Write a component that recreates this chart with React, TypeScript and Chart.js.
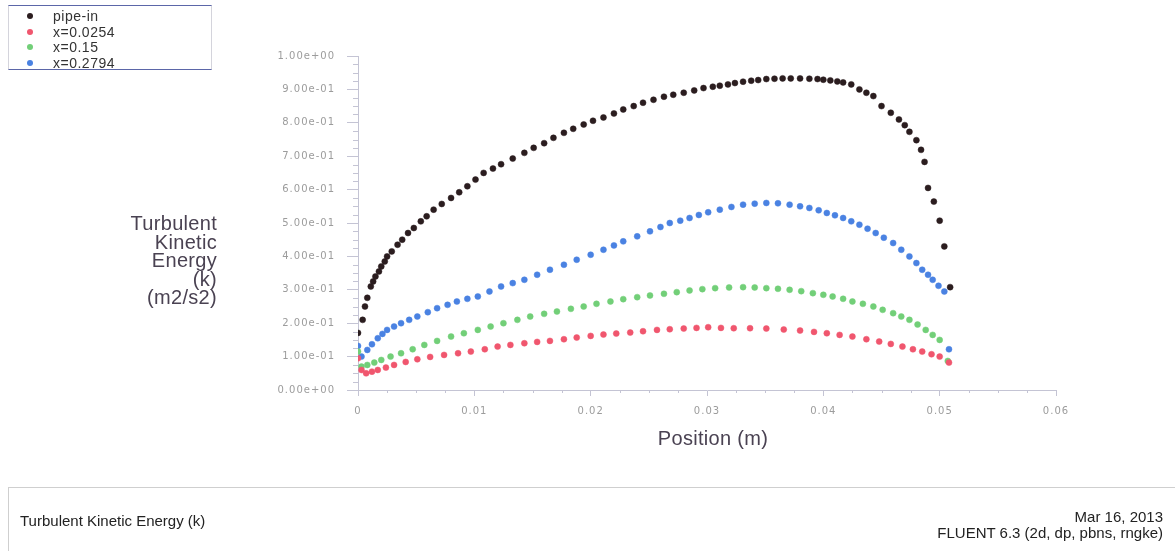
import React, { useEffect, useRef } from "react";
import { Chart, registerables } from "chart.js";

Chart.register(...registerables);

// ---- data ----
const pipeInX = [0, 0.0004, 0.0006, 0.0008, 0.0011, 0.0013, 0.0015, 0.0018, 0.002, 0.0023, 0.0025, 0.0029, 0.0034, 0.0038, 0.0043, 0.0048, 0.0054, 0.0059, 0.0065, 0.0072, 0.008, 0.0087, 0.0094, 0.0101, 0.0108, 0.0116, 0.0123, 0.0133, 0.0143, 0.0151, 0.016, 0.0168, 0.0177, 0.0185, 0.0194, 0.0202, 0.0211, 0.022, 0.0228, 0.0237, 0.0245, 0.0254, 0.0263, 0.0271, 0.028, 0.0289, 0.0297, 0.0305, 0.0311, 0.0318, 0.0324, 0.0331, 0.0338, 0.0344, 0.0351, 0.0358, 0.0365, 0.0372, 0.038, 0.0388, 0.0395, 0.04, 0.0406, 0.0412, 0.0417, 0.0424, 0.0431, 0.0437, 0.0443, 0.045, 0.0458, 0.0465, 0.047, 0.0474, 0.048, 0.0484, 0.0487, 0.049, 0.0495, 0.05, 0.0504, 0.0509];
const pipeInK = [0.171, 0.21, 0.25, 0.276, 0.31, 0.325, 0.34, 0.355, 0.37, 0.385, 0.4, 0.415, 0.435, 0.45, 0.47, 0.485, 0.505, 0.52, 0.54, 0.557, 0.575, 0.592, 0.61, 0.63, 0.65, 0.663, 0.676, 0.693, 0.71, 0.725, 0.739, 0.755, 0.77, 0.782, 0.795, 0.806, 0.816, 0.828, 0.84, 0.85, 0.86, 0.869, 0.878, 0.884, 0.89, 0.897, 0.904, 0.908, 0.911, 0.915, 0.919, 0.923, 0.926, 0.928, 0.931, 0.932, 0.933, 0.933, 0.933, 0.932, 0.931, 0.929, 0.927, 0.924, 0.921, 0.915, 0.9, 0.89, 0.88, 0.85, 0.83, 0.81, 0.793, 0.773, 0.748, 0.719, 0.683, 0.605, 0.564, 0.507, 0.43, 0.308];

const x0254X = [0, 0.0003, 0.0007, 0.0012, 0.0017, 0.0024, 0.0031, 0.0041, 0.0051, 0.0062, 0.0074, 0.0086, 0.0097, 0.0109, 0.012, 0.0131, 0.0143, 0.0154, 0.0165, 0.0177, 0.0188, 0.02, 0.0211, 0.0222, 0.0234, 0.0245, 0.0257, 0.0268, 0.028, 0.0291, 0.0301, 0.0312, 0.0323, 0.0337, 0.0351, 0.0366, 0.038, 0.0392, 0.0403, 0.0414, 0.0425, 0.0437, 0.0448, 0.0458, 0.0468, 0.0477, 0.0485, 0.0493, 0.05, 0.0508];
const x0254K = [0.095, 0.06, 0.05, 0.055, 0.06, 0.067, 0.075, 0.084, 0.092, 0.099, 0.105, 0.11, 0.115, 0.122, 0.13, 0.135, 0.14, 0.144, 0.147, 0.152, 0.157, 0.162, 0.166, 0.169, 0.172, 0.176, 0.18, 0.182, 0.184, 0.186, 0.188, 0.186, 0.185, 0.185, 0.184, 0.181, 0.178, 0.174, 0.17, 0.165, 0.16, 0.152, 0.145, 0.138, 0.13, 0.122, 0.115, 0.107, 0.1, 0.082];

const x015X = [0, 0.0003, 0.0008, 0.0014, 0.002, 0.0028, 0.0037, 0.0047, 0.0057, 0.0068, 0.008, 0.0091, 0.0103, 0.0114, 0.0125, 0.0137, 0.0148, 0.016, 0.0171, 0.0183, 0.0194, 0.0205, 0.0217, 0.0228, 0.024, 0.0251, 0.0263, 0.0274, 0.0285, 0.0296, 0.0307, 0.0319, 0.0331, 0.0341, 0.0351, 0.0361, 0.0371, 0.0381, 0.0391, 0.04, 0.0408, 0.0417, 0.0425, 0.0434, 0.0443, 0.0451, 0.046, 0.0467, 0.0474, 0.0481, 0.0488, 0.0494, 0.05, 0.0507];
const x015K = [0.115, 0.07, 0.075, 0.082, 0.09, 0.1, 0.11, 0.122, 0.135, 0.147, 0.16, 0.17, 0.18, 0.19, 0.2, 0.21, 0.22, 0.228, 0.235, 0.243, 0.25, 0.258, 0.265, 0.272, 0.278, 0.283, 0.288, 0.293, 0.298, 0.302, 0.305, 0.307, 0.308, 0.307, 0.305, 0.303, 0.3, 0.296, 0.29, 0.285, 0.28, 0.273, 0.265, 0.258, 0.25, 0.24, 0.23, 0.22, 0.21, 0.196, 0.18, 0.165, 0.15, 0.087];

const x2794X = [0, 0.0003, 0.0008, 0.0012, 0.0017, 0.0021, 0.0025, 0.0031, 0.0037, 0.0044, 0.0051, 0.006, 0.0068, 0.0077, 0.0085, 0.0094, 0.0103, 0.0113, 0.0123, 0.0133, 0.0143, 0.0154, 0.0165, 0.0177, 0.0188, 0.02, 0.0211, 0.022, 0.0228, 0.024, 0.0251, 0.026, 0.0268, 0.0277, 0.0285, 0.0293, 0.0301, 0.0311, 0.0321, 0.0331, 0.0341, 0.0351, 0.0361, 0.0371, 0.038, 0.0388, 0.0396, 0.0403, 0.041, 0.0417, 0.0424, 0.0431, 0.0438, 0.0445, 0.0452, 0.046, 0.0467, 0.0474, 0.048, 0.0485, 0.049, 0.0494, 0.0499, 0.0504, 0.0508];
const x2794K = [0.132, 0.1, 0.12, 0.137, 0.155, 0.168, 0.18, 0.19, 0.2, 0.21, 0.22, 0.233, 0.245, 0.255, 0.265, 0.273, 0.28, 0.295, 0.31, 0.32, 0.33, 0.345, 0.36, 0.375, 0.39, 0.405, 0.42, 0.433, 0.445, 0.46, 0.475, 0.488, 0.5, 0.507, 0.515, 0.524, 0.532, 0.54, 0.548, 0.555, 0.558, 0.56, 0.559, 0.555, 0.55, 0.545, 0.538, 0.53, 0.523, 0.515, 0.505, 0.495, 0.483, 0.47, 0.456, 0.44, 0.42, 0.4, 0.38, 0.36, 0.345, 0.33, 0.312, 0.295, 0.122];

const seriesNames = ["pipe-in", "x=0.0254", "x=0.15", "x=0.2794"];
const seriesColors = ["#2b1d1f", "#f0566e", "#72cf78", "#4a82e2"];

const xTickValues = [0, 0.01, 0.02, 0.03, 0.04, 0.05, 0.06];
const xTickLabels = ["0", "0.01", "0.02", "0.03", "0.04", "0.05", "0.06"];
const yTickValues = [0, 0.1, 0.2, 0.3, 0.4, 0.5, 0.6, 0.7, 0.8, 0.9, 1.0];
const yTickLabels = ["0.00e+00", "1.00e-01", "2.00e-01", "3.00e-01", "4.00e-01", "5.00e-01", "6.00e-01", "7.00e-01", "8.00e-01", "9.00e-01", "1.00e+00"];
const xMinorStep = 0.0025;
const yMinorStep = 0.025;

const yTitleLines = ["Turbulent", "Kinetic", "Energy", "(k)", "(m2/s2)"];
const xTitle = "Position (m)";
const footerLeft = "Turbulent Kinetic Energy (k)";
const footerDate = "Mar 16, 2013";
const footerVersion = "FLUENT 6.3 (2d, dp, pbns, rngke)";

const AXIS_COLOR = "#c4c4d4";
const TICK_TEXT = "#9c9c9c";
const FONT = "'Liberation Sans', Arial, sans-serif";

const zip = (xs: number[], ys: number[]) => xs.map((x, i) => ({ x, y: ys[i] }));

const minorTicksPlugin = {
  id: "minorTicks",
  afterDraw(chart: any) {
    const { ctx, scales } = chart;
    const xs = scales.x;
    const ys = scales.y;
    ctx.save();
    ctx.strokeStyle = AXIS_COLOR;
    ctx.lineWidth = 1;
    ctx.beginPath();
    const ny = Math.round(1 / yMinorStep);
    for (let i = 0; i <= ny; i++) {
      if (i % 4 === 0) continue;
      const py = Math.round(ys.getPixelForValue(i * yMinorStep)) + 0.5;
      ctx.moveTo(xs.left - 5, py);
      ctx.lineTo(xs.left, py);
    }
    const nx = Math.round(0.06 / xMinorStep);
    for (let i = 0; i <= nx; i++) {
      if (i % 4 === 0) continue;
      const px = Math.round(xs.getPixelForValue(i * xMinorStep)) + 0.5;
      ctx.moveTo(px, ys.bottom);
      ctx.lineTo(px, ys.bottom + 3);
    }
    ctx.stroke();
    ctx.restore();
  },
};

const spacingPlugin = {
  id: "tickSpacing",
  beforeDraw(chart: any) {
    (chart.ctx as any).letterSpacing = "1px";
  },
  beforeDatasetsDraw(chart: any) {
    (chart.ctx as any).letterSpacing = "0px";
  },
};

function ChartCanvas() {
  const ref = useRef<HTMLCanvasElement | null>(null);
  useEffect(() => {
    if (!ref.current) return;
    const sets = [
      zip(pipeInX, pipeInK),
      zip(x0254X, x0254K),
      zip(x015X, x015K),
      zip(x2794X, x2794K),
    ];
    const chart = new Chart(ref.current, {
      type: "scatter",
      data: {
        datasets: sets.map((d, i) => ({
          label: seriesNames[i],
          data: d,
          backgroundColor: seriesColors[i],
          borderColor: seriesColors[i],
          pointRadius: 3,
          pointBorderWidth: 0.5,
          showLine: false,
        })),
      },
      options: {
        responsive: false,
        animation: false,
        events: [],
        layout: { padding: { left: 0, top: 56, right: 119, bottom: 121 } },
        plugins: {
          legend: { display: false },
          tooltip: { enabled: false },
        },
        scales: {
          x: {
            type: "linear",
            min: 0,
            max: 0.06,
            afterFit: (s: any) => {
              s.height = 40;
            },
            afterBuildTicks: (s: any) => {
              s.ticks = xTickValues.map((v) => ({ value: v }));
            },
            grid: { drawOnChartArea: false, drawTicks: true, tickLength: 6, color: AXIS_COLOR },
            border: { display: true, color: AXIS_COLOR, width: 1 },
            ticks: {
              autoSkip: false,
              maxRotation: 0,
              padding: 9,
              color: TICK_TEXT,
              font: { family: "'DejaVu Sans', sans-serif", size: 10 },
              callback: (_v: any, i: number) => xTickLabels[i],
            },
          },
          y: {
            type: "linear",
            min: 0,
            max: 1,
            afterFit: (s: any) => {
              s.width = 358;
            },
            afterBuildTicks: (s: any) => {
              s.ticks = yTickValues.map((v) => ({ value: v }));
            },
            grid: { drawOnChartArea: false, drawTicks: true, tickLength: 11, color: AXIS_COLOR },
            border: { display: true, color: AXIS_COLOR, width: 1 },
            ticks: {
              autoSkip: false,
              padding: 12,
              color: TICK_TEXT,
              font: { family: "'DejaVu Sans', sans-serif", size: 10 },
              callback: (_v: any, i: number) => yTickLabels[i],
            },
          },
        },
      },
      plugins: [spacingPlugin, minorTicksPlugin],
    } as any);
    return () => chart.destroy();
  }, []);
  return <canvas ref={ref} width={1175} height={551} style={{ position: "absolute", left: 0, top: 0 }} />;
}

export default function App() {
  useEffect(() => {
    document.body.style.margin = "0";
  }, []);
  const textColor = "#222";
  return (
    <div
      style={{
        position: "absolute",
        left: 0,
        top: 0,
        width: 1175,
        height: 551,
        overflow: "hidden",
        background: "#fff",
        fontFamily: FONT,
      }}
    >
      <ChartCanvas />

      {/* legend */}
      <div
        style={{
          position: "absolute",
          left: 8,
          top: 5,
          width: 204,
          height: 65,
          borderTop: "1px solid #5b66a8",
          borderBottom: "1px solid #5b66a8",
          borderLeft: "1px solid #d4d4dc",
          borderRight: "1px solid #d4d4dc",
          boxSizing: "border-box",
        }}
      >
        {seriesNames.map((n, i) => (
          <div
            key={n}
            style={{
              position: "absolute",
              left: 0,
              top: 2 + i * 15.6,
              height: 16,
              lineHeight: "16px",
              width: 200,
            }}
          >
            <span
              style={{
                position: "absolute",
                left: 18,
                top: 5,
                width: 6,
                height: 6,
                borderRadius: 3,
                background: seriesColors[i],
              }}
            />
            <span
              style={{
                position: "absolute",
                left: 44,
                top: 0,
                fontSize: 14,
                letterSpacing: "0.5px",
                color: "#333",
                whiteSpace: "nowrap",
              }}
            >
              {n}
            </span>
          </div>
        ))}
      </div>

      {/* y axis title */}
      <div
        style={{
          position: "absolute",
          left: 0,
          width: 217,
          top: 214,
          textAlign: "right",
          fontSize: 20,
          lineHeight: "18.6px",
          letterSpacing: "0.3px",
          color: "#4a4252",
        }}
      >
        {yTitleLines.map((l) => (
          <div key={l}>{l}</div>
        ))}
      </div>

      {/* x axis title */}
      <div
        style={{
          position: "absolute",
          left: 713,
          top: 426,
          transform: "translateX(-50%)",
          fontSize: 20,
          lineHeight: "24px",
          letterSpacing: "0.3px",
          color: "#4a4252",
          whiteSpace: "nowrap",
        }}
      >
        {xTitle}
      </div>

      {/* footer */}
      <div
        style={{
          position: "absolute",
          left: 8,
          top: 487,
          width: 1180,
          height: 80,
          borderTop: "1px solid #cfcfcf",
          borderLeft: "1px solid #cfcfcf",
          boxSizing: "border-box",
        }}
      />
      <div
        style={{
          position: "absolute",
          left: 20,
          top: 512,
          fontSize: 15,
          lineHeight: "18px",
          color: textColor,
          whiteSpace: "nowrap",
        }}
      >
        {footerLeft}
      </div>
      <div
        style={{
          position: "absolute",
          right: 12,
          top: 509,
          fontSize: 15,
          lineHeight: "16px",
          color: textColor,
          textAlign: "right",
          whiteSpace: "nowrap",
        }}
      >
        <div>{footerDate}</div>
        <div>{footerVersion}</div>
      </div>
    </div>
  );
}
